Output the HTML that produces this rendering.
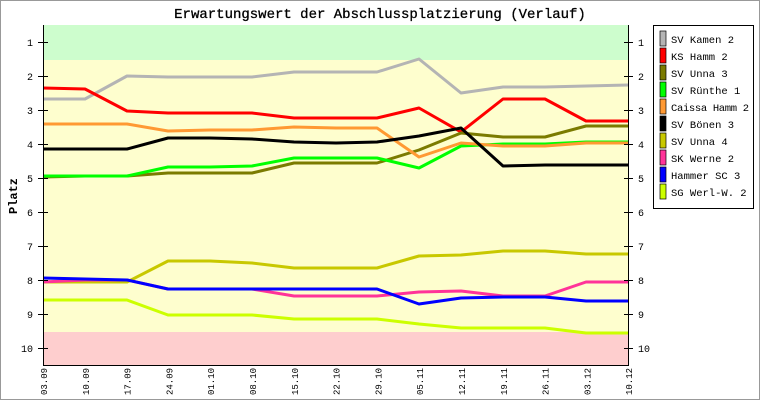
<!DOCTYPE html><html><head><style>body{margin:0;background:#fff}svg{display:block}text{font-family:"Liberation Mono","DejaVu Sans Mono",monospace}</style></head><body>
<svg width="760" height="400" xmlns="http://www.w3.org/2000/svg">
<rect x="0.5" y="0.5" width="759" height="399" fill="#fff" stroke="#999"/>
<text x="380" y="18" font-size="14" text-anchor="middle" stroke="#000" stroke-width="0.3">Erwartungswert der Abschlussplatzierung (Verlauf)</text>
<rect x="43" y="25" width="585" height="340" fill="#fefece"/>
<rect x="43" y="25" width="585" height="35" fill="#cdfdcd"/>
<rect x="43" y="332" width="585" height="33" fill="#fecece"/>
<g fill="none" stroke-width="3" stroke-linejoin="round">
<polyline stroke="#b4b4b4" points="43,99 85,99 127,76 168,77 210,77 252,77 294,72 336,72 377,72 419,59 461,93 503,87 545,87 586,86 628,85"/>
<polyline stroke="#ff0000" points="43,88 85,89 127,111 168,113 210,113 252,113 294,118 336,118 377,118 419,108 461,132 503,99 545,99 586,121 628,121"/>
<polyline stroke="#7b7b00" points="43,177 85,176 127,176 168,173 210,173 252,173 294,163 336,163 377,163 419,150 461,133 503,137 545,137 586,126 628,126"/>
<polyline stroke="#00ff00" points="43,176 85,176 127,176 168,167 210,167 252,166 294,158 336,158 377,158 419,168 461,146 503,144 545,144 586,142 628,142"/>
<polyline stroke="#ff9933" points="43,124 85,124 127,124 168,131 210,130 252,130 294,127 336,128 377,128 419,157 461,143 503,146 545,146 586,143 628,143"/>
<polyline stroke="#000000" points="43,149 85,149 127,149 168,138 210,138 252,139 294,142 336,143 377,142 419,136 461,128 503,166 545,165 586,165 628,165"/>
<polyline stroke="#c8c800" points="43,282 85,282 127,282 168,261 210,261 252,263 294,268 336,268 377,268 419,256 461,255 503,251 545,251 586,254 628,254"/>
<polyline stroke="#ff3399" points="43,282 85,280 127,280 168,289 210,289 252,289 294,296 336,296 377,296 419,292 461,291 503,296 545,296 586,282 628,282"/>
<polyline stroke="#0000ff" points="43,278 85,279 127,280 168,289 210,289 252,289 294,289 336,289 377,289 419,304 461,298 503,297 545,297 586,301 628,301"/>
<polyline stroke="#ccff00" points="43,300 85,300 127,300 168,315 210,315 252,315 294,319 336,319 377,319 419,324 461,328 503,328 545,328 586,333 628,333"/>
</g>
<g stroke="#000" stroke-width="1">
<line x1="43.5" y1="25" x2="43.5" y2="365.5"/><line x1="628.5" y1="25" x2="628.5" y2="365.5"/><line x1="43" y1="365.5" x2="629" y2="365.5"/>
<path d="M38 42.5h10M38 76.5h10M38 110.5h10M38 144.5h10M38 178.5h10M38 212.5h10M38 246.5h10M38 280.5h10M38 314.5h10M38 348.5h10M624 42.5h9M624 76.5h9M624 110.5h9M624 144.5h9M624 178.5h9M624 212.5h9M624 246.5h9M624 280.5h9M624 314.5h9M624 348.5h9"/>
</g>
<g font-size="10" text-anchor="end">
<text x="33" y="46">1</text><text x="33" y="80">2</text><text x="33" y="114">3</text><text x="33" y="148">4</text><text x="33" y="182">5</text><text x="33" y="216">6</text><text x="33" y="250">7</text><text x="33" y="284">8</text><text x="33" y="318">9</text><text x="33" y="352">10</text>
</g>
<g font-size="10">
<text x="638" y="46">1</text><text x="638" y="80">2</text><text x="638" y="114">3</text><text x="638" y="148">4</text><text x="638" y="182">5</text><text x="638" y="216">6</text><text x="638" y="250">7</text><text x="638" y="284">8</text><text x="638" y="318">9</text><text x="638" y="352">10</text>
</g>
<g font-size="9">
<text transform="translate(47,395) rotate(-90)">03.09</text>
<text transform="translate(88.8,395) rotate(-90)">10.09</text>
<text transform="translate(130.6,395) rotate(-90)">17.09</text>
<text transform="translate(172.4,395) rotate(-90)">24.09</text>
<text transform="translate(214.2,395) rotate(-90)">01.10</text>
<text transform="translate(256,395) rotate(-90)">08.10</text>
<text transform="translate(297.8,395) rotate(-90)">15.10</text>
<text transform="translate(339.6,395) rotate(-90)">22.10</text>
<text transform="translate(381.4,395) rotate(-90)">29.10</text>
<text transform="translate(423.2,395) rotate(-90)">05.11</text>
<text transform="translate(465,395) rotate(-90)">12.11</text>
<text transform="translate(506.8,395) rotate(-90)">19.11</text>
<text transform="translate(548.6,395) rotate(-90)">26.11</text>
<text transform="translate(590.4,395) rotate(-90)">03.12</text>
<text transform="translate(632.2,395) rotate(-90)">10.12</text>
</g>
<text transform="translate(17,196) rotate(-90)" font-size="12" font-weight="bold" text-anchor="middle">Platz</text>
<rect x="653.5" y="25.5" width="100" height="183" fill="#fff" stroke="#000"/>
<g stroke="#000" stroke-width="0.7">
<rect x="660" y="31" width="6" height="15" fill="#b4b4b4"/><rect x="660" y="48" width="6" height="15" fill="#ff0000"/><rect x="660" y="65" width="6" height="15" fill="#7b7b00"/><rect x="660" y="82" width="6" height="15" fill="#00ff00"/><rect x="660" y="99" width="6" height="15" fill="#ff9933"/><rect x="660" y="116" width="6" height="15" fill="#000"/><rect x="660" y="133" width="6" height="15" fill="#c8c800"/><rect x="660" y="150" width="6" height="15" fill="#ff3399"/><rect x="660" y="167" width="6" height="15" fill="#0000ff"/><rect x="660" y="184" width="6" height="15" fill="#ccff00"/>
</g>
<g font-size="10.5" textLength="">
<text x="671" y="43">SV Kamen 2</text><text x="671" y="60">KS Hamm 2</text><text x="671" y="77">SV Unna 3</text><text x="671" y="94">SV Rünthe 1</text><text x="671" y="111" textLength="78">Caissa Hamm 2</text><text x="671" y="128">SV Bönen 3</text><text x="671" y="145">SV Unna 4</text><text x="671" y="162">SK Werne 2</text><text x="671" y="179">Hammer SC 3</text><text x="671" y="196">SG Werl-W. 2</text>
</g>
</svg></body></html>
